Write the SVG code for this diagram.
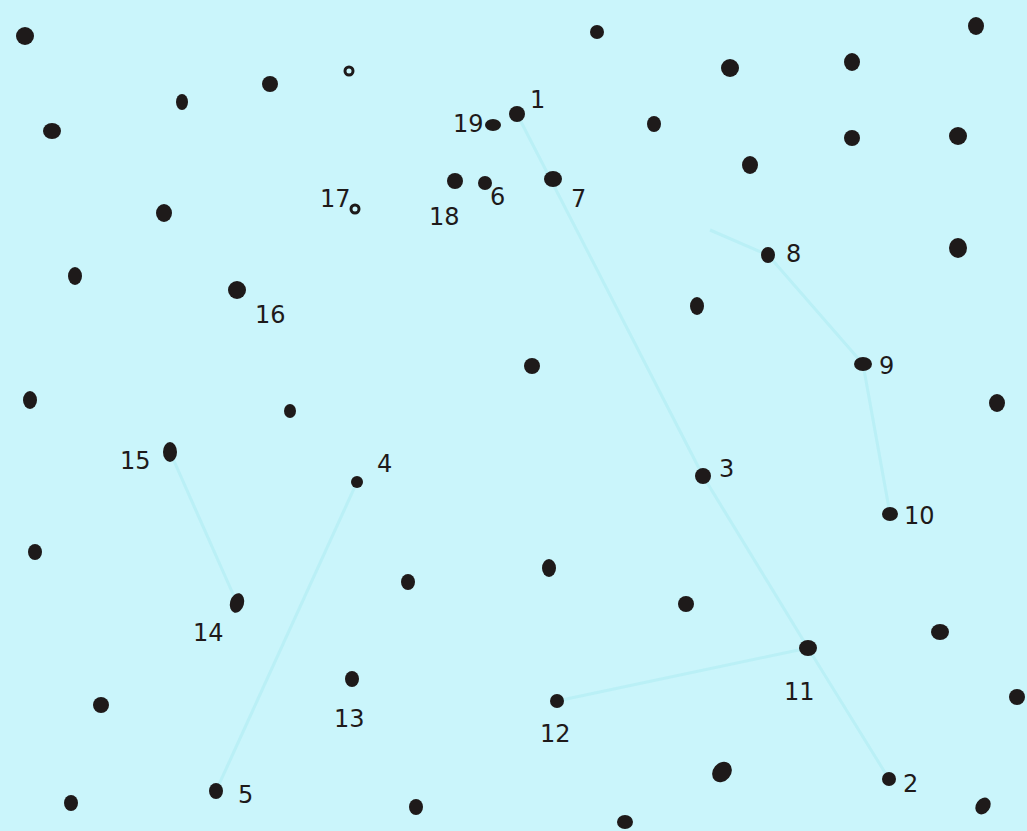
<svg xmlns="http://www.w3.org/2000/svg" width="1027" height="831" viewBox="0 0 1027 831">
<style>
.d{fill:#1e1a1a}
.h{fill:none;stroke:#1e1a1a;stroke-width:3}
.t{font-family:"DejaVu Sans","Liberation Sans",sans-serif;font-size:24px;fill:#1e1a1a}
.c{stroke:#b4eef4;stroke-width:3;fill:none;opacity:0.75}
</style>
<rect width="1027" height="831" fill="#caf5fb"/>
<g id="connectors">
<line class="c" x1="517" y1="114" x2="703" y2="476"/>
<line class="c" x1="703" y1="476" x2="808" y2="648"/>
<line class="c" x1="808" y1="648" x2="889" y2="779"/>
<line class="c" x1="710" y1="230" x2="768" y2="255"/>
<line class="c" x1="768" y1="255" x2="863" y2="364"/>
<line class="c" x1="863" y1="364" x2="890" y2="514"/>
<line class="c" x1="808" y1="648" x2="557" y2="701"/>
<line class="c" x1="357" y1="482" x2="216" y2="791"/>
<line class="c" x1="170" y1="452" x2="237" y2="603"/>
</g>
<g id="loose-dots">
<ellipse class="d" cx="25" cy="36" rx="9" ry="9"/>
<ellipse class="d" cx="597" cy="32" rx="7" ry="7"/>
<ellipse class="d" cx="976" cy="26" rx="8" ry="9"/>
<ellipse class="d" cx="730" cy="68" rx="9" ry="9"/>
<ellipse class="d" cx="852" cy="62" rx="8" ry="9"/>
<ellipse class="d" cx="270" cy="84" rx="8" ry="8"/>
<ellipse class="h" cx="349" cy="71" rx="4" ry="4"/>
<ellipse class="d" cx="182" cy="102" rx="6" ry="8"/>
<ellipse class="d" cx="52" cy="131" rx="9" ry="8"/>
<ellipse class="d" cx="654" cy="124" rx="7" ry="8"/>
<ellipse class="d" cx="852" cy="138" rx="8" ry="8"/>
<ellipse class="d" cx="958" cy="136" rx="9" ry="9"/>
<ellipse class="d" cx="750" cy="165" rx="8" ry="9"/>
<ellipse class="d" cx="164" cy="213" rx="8" ry="9"/>
<ellipse class="d" cx="75" cy="276" rx="7" ry="9"/>
<ellipse class="d" cx="958" cy="248" rx="9" ry="10"/>
<ellipse class="d" cx="697" cy="306" rx="7" ry="9"/>
<ellipse class="d" cx="532" cy="366" rx="8" ry="8"/>
<ellipse class="d" cx="30" cy="400" rx="7" ry="9"/>
<ellipse class="d" cx="290" cy="411" rx="6" ry="7"/>
<ellipse class="d" cx="997" cy="403" rx="8" ry="9"/>
<ellipse class="d" cx="35" cy="552" rx="7" ry="8"/>
<ellipse class="d" cx="408" cy="582" rx="7" ry="8"/>
<ellipse class="d" cx="549" cy="568" rx="7" ry="9"/>
<ellipse class="d" cx="686" cy="604" rx="8" ry="8"/>
<ellipse class="d" cx="940" cy="632" rx="9" ry="8"/>
<ellipse class="d" cx="101" cy="705" rx="8" ry="8"/>
<ellipse class="d" cx="1017" cy="697" rx="8" ry="8"/>
<ellipse class="d" cx="722" cy="772" rx="9" ry="11" transform="rotate(40 722 772)"/>
<ellipse class="d" cx="71" cy="803" rx="7" ry="8"/>
<ellipse class="d" cx="416" cy="807" rx="7" ry="8"/>
<ellipse class="d" cx="983" cy="806" rx="7" ry="9" transform="rotate(35 983 806)"/>
<ellipse class="d" cx="625" cy="822" rx="8" ry="7"/>
</g>
<g id="n1"><ellipse class="d" cx="517" cy="114" rx="8" ry="8"/><text class="t" x="530" y="108">1</text></g>
<g id="n2"><ellipse class="d" cx="889" cy="779" rx="7" ry="7"/><text class="t" x="903" y="792">2</text></g>
<g id="n3"><ellipse class="d" cx="703" cy="476" rx="8" ry="8"/><text class="t" x="719" y="477">3</text></g>
<g id="n4"><ellipse class="d" cx="357" cy="482" rx="6" ry="6"/><text class="t" x="377" y="472">4</text></g>
<g id="n5"><ellipse class="d" cx="216" cy="791" rx="7" ry="8"/><text class="t" x="238" y="803">5</text></g>
<g id="n6"><ellipse class="d" cx="485" cy="183" rx="7" ry="7"/><text class="t" x="490" y="205">6</text></g>
<g id="n7"><ellipse class="d" cx="553" cy="179" rx="9" ry="8"/><text class="t" x="571" y="207">7</text></g>
<g id="n8"><ellipse class="d" cx="768" cy="255" rx="7" ry="8"/><text class="t" x="786" y="262">8</text></g>
<g id="n9"><ellipse class="d" cx="863" cy="364" rx="9" ry="7"/><text class="t" x="879" y="374">9</text></g>
<g id="n10"><ellipse class="d" cx="890" cy="514" rx="8" ry="7"/><text class="t" x="904" y="524">10</text></g>
<g id="n11"><ellipse class="d" cx="808" cy="648" rx="9" ry="8"/><text class="t" x="784" y="700">11</text></g>
<g id="n12"><ellipse class="d" cx="557" cy="701" rx="7" ry="7"/><text class="t" x="540" y="742">12</text></g>
<g id="n13"><ellipse class="d" cx="352" cy="679" rx="7" ry="8"/><text class="t" x="334" y="727">13</text></g>
<g id="n14"><ellipse class="d" cx="237" cy="603" rx="7" ry="10" transform="rotate(15 237 603)"/><text class="t" x="193" y="641">14</text></g>
<g id="n15"><ellipse class="d" cx="170" cy="452" rx="7" ry="10"/><text class="t" x="120" y="469">15</text></g>
<g id="n16"><ellipse class="d" cx="237" cy="290" rx="9" ry="9"/><text class="t" x="255" y="323">16</text></g>
<g id="n17"><ellipse class="h" cx="355" cy="209" rx="4" ry="4"/><text class="t" x="320" y="207">17</text></g>
<g id="n18"><ellipse class="d" cx="455" cy="181" rx="8" ry="8"/><text class="t" x="429" y="225">18</text></g>
<g id="n19"><ellipse class="d" cx="493" cy="125" rx="8" ry="6"/><text class="t" x="453" y="132">19</text></g>
</svg>
